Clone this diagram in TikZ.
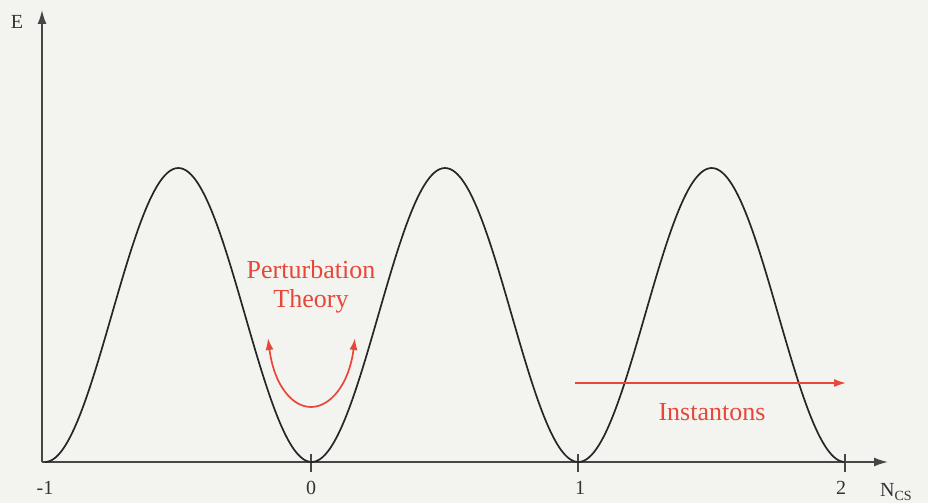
\documentclass[tikz,border=0pt]{standalone}
\usepackage{fontspec}
\setmainfont{Liberation Serif}
\usetikzlibrary{arrows.meta}
\definecolor{bg}{RGB}{243,244,239}
\definecolor{pred}{RGB}{232,70,58}
\definecolor{axisc}{RGB}{70,70,70}
\tikzset{
  axisline/.style={draw=axisc, line width=1.6pt},
  curve/.style={draw=black!85, line width=1.7pt},
  redtext/.style={text=pred, font=\fontsize{26}{30}\selectfont, inner sep=0pt},
  axlabel/.style={text=black!80, font=\fontsize{20}{23}\selectfont, inner sep=0pt},
  redarrow/.style={draw=pred, line width=1.7pt, -{Latex[length=12pt,width=8pt]}}
}
\begin{document}
\begin{tikzpicture}[x=1pt,y=-1pt]
\fill[bg] (0,0) rectangle (928,503);
\useasboundingbox (0,0) rectangle (928,503);
% axes
\coordinate (O) at (42,462);
\coordinate (ytop) at (42,10);
\coordinate (xend) at (888,462);
\draw[axisline, -{Latex[length=14pt,width=9pt]}] (O) -- (ytop);
\draw[axisline, -{Latex[length=14pt,width=9pt]}] (O) -- (xend);
% ticks
\coordinate (t0) at (311,462);
\coordinate (t1) at (578,462);
\coordinate (t2) at (845,462);
\foreach \t in {t0,t1,t2}{\draw[axisc, line width=1.3pt] ([yshift=-10pt]\t) -- ([yshift=8pt]\t);}
% tick labels
\node[axlabel] (lm1) at (45,488) {-1};
\node[axlabel] (l0) at (311,488) {0};
\node[axlabel] (l1) at (580,488) {1};
\node[axlabel] (l2) at (841,488) {2};
\node[axlabel, anchor=west] (lN) at (880,492) {N\textsubscript{CS}};
\node[axlabel] (lE) at (17,22) {E};
% potential curve
\draw[curve] plot[domain=-1:2, samples=301, smooth] ({45+266.67*(\x+1)}, {462-147*(1-cos(360*\x))});
% perturbation theory
\node[redtext] (pt1) at (311,270) {Perturbation};
\node[redtext] (pt2) at (311,301) {Theory};
\coordinate (ua) at (268,338);
\coordinate (ub) at (355,338);
\coordinate (um) at (311,407);
\draw[redarrow, {Latex[length=12pt,width=8pt]}-{Latex[length=12pt,width=8pt]}] (ua) .. controls (274,385) and (292,407) .. (um) .. controls (330,407) and (349,385) .. (ub);
% instantons
\coordinate (ia) at (575,383);
\coordinate (ib) at (846,383);
\draw[redarrow] (ia) -- (ib);
\node[redtext] (inst) at (712,412) {Instantons};
\end{tikzpicture}
\end{document}
